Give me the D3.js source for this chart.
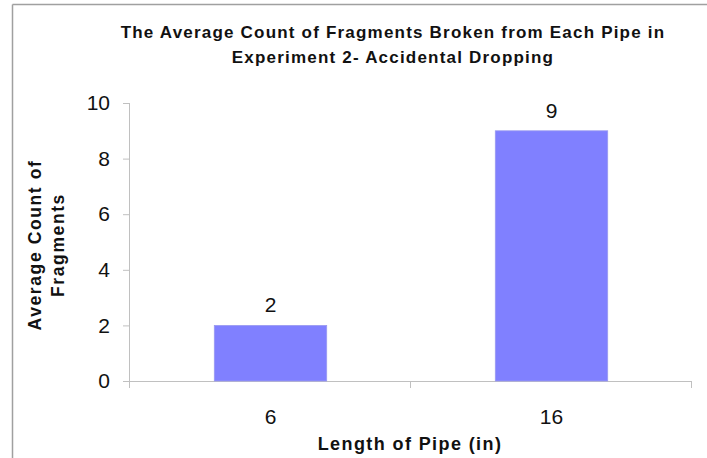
<!DOCTYPE html>
<html><head><meta charset="utf-8">
<script src="https://cdn.jsdelivr.net/npm/d3@7"></script>
<style>body{margin:0;background:#fff;}svg{display:block;font-family:"Liberation Sans",Arial,sans-serif;}</style>
</head><body>
<script>
const categories = ["6", "16"];
const values = [2, 9];
const yTicks = [0, 2, 4, 6, 8, 10];
const titleLines = ["The Average Count of Fragments Broken from Each Pipe in", "Experiment 2- Accidental Dropping"];
const xTitle = "Length of Pipe (in)";
const yTitleLines = ["Average Count of", "Fragments"];

(function () {
const W = 707, H = 458;
const svg = d3.select("body").append("svg").attr("width", W).attr("height", H);
// outer frame
svg.append("line").attr("x1", 12.5).attr("x2", W).attr("y1", 4.5).attr("y2", 4.5).attr("stroke", "#a0a0a0").attr("stroke-width", 1.5);
svg.append("line").attr("x1", 12.5).attr("x2", 12.5).attr("y1", 4.5).attr("y2", H).attr("stroke", "#a0a0a0").attr("stroke-width", 1.5);

const pLeft = 130, pRight = 692, pTop = 103, pBottom = 381;
const x = d3.scaleBand().domain(categories).range([pLeft, pRight]).paddingInner(0.6).paddingOuter(0.3);
const y = d3.scaleLinear().domain([0, 10]).range([pBottom, pTop]);
const axisColor = "#c0c0c0";
const numSize = 21;

// title
svg.append("text").attr("x", 393).attr("y", 38).attr("text-anchor", "middle")
  .attr("font-size", 17).attr("font-weight", "bold").attr("fill", "#111").attr("letter-spacing", 1.2)
  .selectAll("tspan").data(titleLines).join("tspan")
  .attr("x", 393).attr("dy", (d, i) => i ? 25 : 0).text(d => d);

// y axis
const yAxis = svg.append("g").attr("transform", `translate(${pLeft},0)`)
  .call(d3.axisLeft(y).tickValues(yTicks).tickSize(7).tickPadding(13).tickFormat(d3.format("d")));
yAxis.select(".domain").attr("stroke", axisColor).attr("d", `M-0.5,${pTop}V${pBottom + 6}`);
yAxis.selectAll(".tick line").attr("stroke", axisColor);
yAxis.selectAll("text").attr("font-size", numSize).attr("fill", "#111").attr("font-family", "Liberation Sans, Arial, sans-serif");

// x axis
svg.append("line").attr("x1", pLeft - 7).attr("x2", pRight).attr("y1", pBottom + 0.5).attr("y2", pBottom + 0.5).attr("stroke", axisColor);
const boundaries = [pLeft, (x(categories[0]) + x(categories[1]) + x.bandwidth()) / 2, pRight];
svg.selectAll(".xb").data(boundaries).join("line")
  .attr("x1", d => d - 0.5).attr("x2", d => d - 0.5).attr("y1", pBottom).attr("y2", pBottom + 7).attr("stroke", axisColor);
svg.selectAll(".xl").data(categories).join("text")
  .attr("x", d => x(d) + x.bandwidth() / 2).attr("y", 424).attr("text-anchor", "middle")
  .attr("font-size", numSize).attr("fill", "#111").text(d => d);

// bars
svg.selectAll(".bar").data(values).join("rect")
  .attr("x", (d, i) => x(categories[i])).attr("width", x.bandwidth())
  .attr("y", d => y(d)).attr("height", d => pBottom - y(d))
  .attr("fill", "#8080ff").attr("stroke", "#9a9af0").attr("stroke-width", 0.8);
svg.selectAll(".vl").data(values).join("text")
  .attr("x", (d, i) => x(categories[i]) + x.bandwidth() / 2).attr("y", d => y(d) - 13)
  .attr("text-anchor", "middle").attr("font-size", numSize).attr("fill", "#111").text(d => d);

// axis titles
svg.append("text").attr("x", 410).attr("y", 450).attr("text-anchor", "middle")
  .attr("font-size", 18).attr("font-weight", "bold").attr("fill", "#111").attr("letter-spacing", 1.4).text(xTitle);
const yt = svg.append("text").attr("transform", "translate(0,245) rotate(-90)")
  .attr("text-anchor", "middle").attr("font-size", 17.5).attr("font-weight", "bold").attr("fill", "#111").attr("letter-spacing", 1.6);
yt.selectAll("tspan").data(yTitleLines).join("tspan")
  .attr("x", 0).attr("y", (d, i) => i ? 64 : 41).text(d => d);
})();
</script>
</body></html>
